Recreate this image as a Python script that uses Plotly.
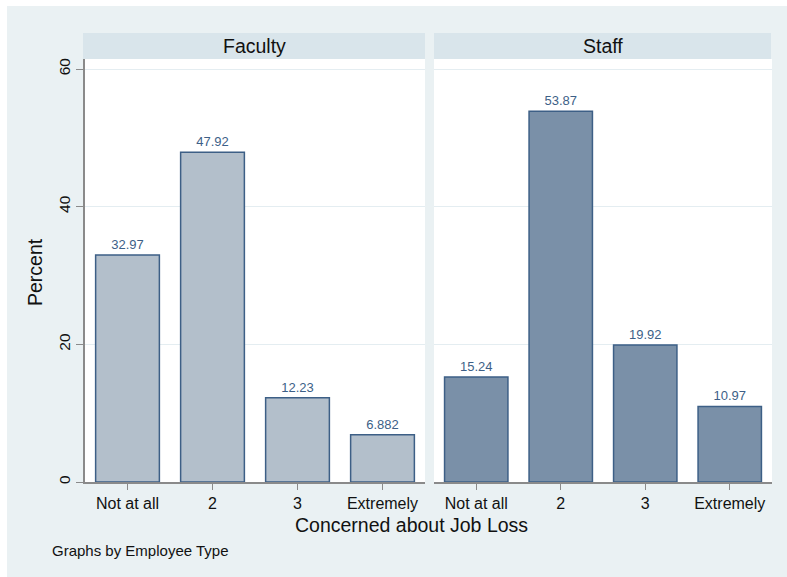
import plotly.graph_objects as go

categories = ["Not at all", "2", "3", "Extremely"]
faculty_pct = [32.97, 47.92, 12.23, 6.882]
staff_pct = [15.24, 53.87, 19.92, 10.97]
panel_titles = ["Faculty", "Staff"]
y_ticks = [0, 20, 40, 60]

W, H = 787, 577
L, R, T, B = 85, 787 - 772, 59, 577 - 482
PW, PH = W - L - R, H - T - B

def px_x(p):  # page pixel -> paper x
    return (p - L) / PW

def px_y(p):  # page pixel -> paper y
    return (H - B - p) / PH

BG = "#EAF1F3"
STRIP = "#D9E5EB"
EDGE = "#3D5F86"
LABEL = "#3D5F87"
AXC = "#8A8A8A"
FONT = "Liberation Sans, Arial, sans-serif"

fig = go.Figure()
fig.add_trace(go.Bar(
    x=categories, y=faculty_pct, xaxis="x", yaxis="y",
    width=0.75, marker=dict(color="#B3BFCB", line=dict(color=EDGE, width=1.5)),
    text=[str(v) for v in faculty_pct], textposition="outside", cliponaxis=False,
    textfont=dict(color=LABEL, size=13, family=FONT), showlegend=False,
))
fig.add_trace(go.Bar(
    x=categories, y=staff_pct, xaxis="x2", yaxis="y2",
    width=0.75, marker=dict(color="#7A90A8", line=dict(color=EDGE, width=1.5)),
    text=[str(v) for v in staff_pct], textposition="outside", cliponaxis=False,
    textfont=dict(color=LABEL, size=13, family=FONT), showlegend=False,
))

ymax = 60 + 10 / (413 / 60)
xa = dict(type="category", range=[-0.5, 3.5], showline=True, linecolor=AXC, linewidth=1.5,
          ticks="outside", ticklen=6, tickcolor=AXC, tickwidth=1.2, showgrid=False,
          tickfont=dict(size=16, family=FONT, color="#111111"), fixedrange=True)
ya = dict(range=[0, ymax], tickvals=y_ticks, showgrid=True, gridcolor="#E4EDF1", gridwidth=1,
          zeroline=False, fixedrange=True)

fig.update_layout(
    width=W, height=H,
    margin=dict(l=L, r=R, t=T, b=B),
    paper_bgcolor=BG, plot_bgcolor="white",
    font=dict(family=FONT, color="#111111"),
    xaxis=dict(xa, domain=[0, px_x(425)], anchor="y"),
    xaxis2=dict(xa, domain=[px_x(434), 1], anchor="y2"),
    yaxis=dict(ya, anchor="x", showline=True, linecolor=AXC, linewidth=1.5,
               ticks="outside", ticklen=7, tickcolor=AXC, tickwidth=1.2, tickangle=-90,
               tickfont=dict(size=15.5, family=FONT, color="#111111")),
    yaxis2=dict(ya, anchor="x2", matches="y", showticklabels=False, showline=False, ticks=""),
)

shapes = [
    # thin white outer border on the left and top
    dict(type="rect", xref="paper", yref="paper", x0=px_x(0), x1=px_x(7), y0=px_y(H), y1=px_y(0),
         fillcolor="white", line=dict(width=0), layer="above"),
    dict(type="rect", xref="paper", yref="paper", x0=px_x(0), x1=px_x(W), y0=px_y(6), y1=px_y(0),
         fillcolor="white", line=dict(width=0), layer="above"),
    # panel strips
    dict(type="rect", xref="paper", yref="paper", x0=px_x(83), x1=px_x(425), y0=px_y(59), y1=px_y(33),
         fillcolor=STRIP, line=dict(width=0)),
    dict(type="rect", xref="paper", yref="paper", x0=px_x(434), x1=px_x(771), y0=px_y(59), y1=px_y(33),
         fillcolor=STRIP, line=dict(width=0)),
]
fig.update_layout(shapes=shapes)

annotations = [
    dict(text=panel_titles[0], xref="paper", yref="paper", x=px_x(254), y=px_y(46),
         showarrow=False, font=dict(size=19.5, family=FONT, color="#111111"), xanchor="center", yanchor="middle"),
    dict(text=panel_titles[1], xref="paper", yref="paper", x=px_x(603), y=px_y(46),
         showarrow=False, font=dict(size=19.5, family=FONT, color="#111111"), xanchor="center", yanchor="middle"),
    dict(text="Percent", xref="paper", yref="paper", x=px_x(35), y=px_y(272), textangle=-90,
         showarrow=False, font=dict(size=19.5, family=FONT, color="#111111"), xanchor="center", yanchor="middle"),
    dict(text="Concerned about Job Loss", xref="paper", yref="paper", x=px_x(411), y=px_y(525),
         showarrow=False, font=dict(size=19.5, family=FONT, color="#111111"), xanchor="center", yanchor="middle"),
    dict(text="Graphs by Employee Type", xref="paper", yref="paper", x=px_x(50), y=px_y(550),
         showarrow=False, font=dict(size=15, family=FONT, color="#111111"), xanchor="left", yanchor="middle"),
]
fig.update_layout(annotations=annotations)

fig.write_html("out.html", config={"displayModeBar": False},
               post_script="document.body.style.margin='0';document.body.style.padding='0';")
